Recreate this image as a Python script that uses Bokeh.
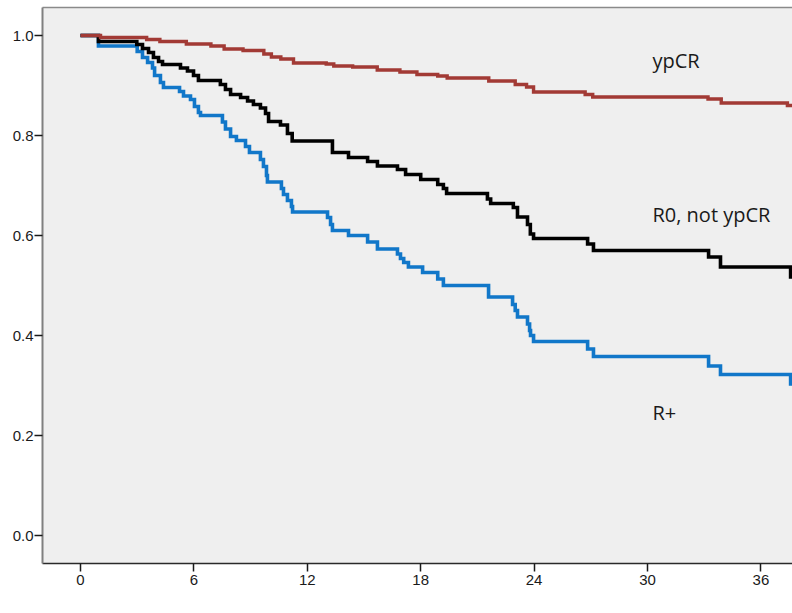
from bokeh.plotting import figure
from bokeh.models import (Range1d, FixedTicker, NumeralTickFormatter, Label,
                          LinearAxis)
from bokeh.embed import file_html
from bokeh.resources import INLINE

# ---- data ----
months_ypcr = [0, 1.06, 3.5, 4.2, 5.6, 6.9, 7.6, 8.6, 9.7, 10.1, 10.6, 11.27, 13.0, 13.4,
               14.4, 15.7, 16.9, 17.8, 18.9, 19.4, 21.6, 23.0, 23.6, 23.97, 26.7, 27.1,
               33.2, 33.9, 37.4, 38.0]
surv_ypcr = [1.0, 0.996, 0.992, 0.988, 0.983, 0.979, 0.973, 0.970, 0.963, 0.957, 0.953,
             0.945, 0.943, 0.939, 0.937, 0.931, 0.927, 0.922, 0.919, 0.915, 0.909, 0.902,
             0.897, 0.887, 0.882, 0.877, 0.873, 0.865, 0.860, 0.860]

months_r0 = [0, 0.95, 2.98, 3.28, 3.6, 3.86, 4.13, 4.34, 5.29, 5.66, 5.98, 6.24, 7.4, 7.67,
             7.94, 8.47, 8.84, 9.15, 9.52, 9.79, 9.95, 10.58, 10.95, 11.2, 13.33, 14.18,
             15.19, 15.71, 16.77, 17.2, 18.0, 18.9, 19.2, 19.37, 21.53, 21.7, 22.9, 23.12,
             23.65, 23.8, 23.97, 26.83, 27.14, 33.23, 33.86, 37.57, 38.0]
surv_r0 = [1.0, 0.988, 0.982, 0.974, 0.966, 0.956, 0.948, 0.942, 0.935, 0.929, 0.92, 0.91,
           0.902, 0.892, 0.882, 0.876, 0.869, 0.862, 0.855, 0.844, 0.828, 0.821, 0.804,
           0.789, 0.766, 0.756, 0.748, 0.739, 0.732, 0.722, 0.712, 0.702, 0.694, 0.684,
           0.673, 0.664, 0.656, 0.637, 0.622, 0.603, 0.594, 0.583, 0.57, 0.557, 0.537,
           0.517, 0.517]

months_rplus = [0, 0.95, 3.0, 3.28, 3.55, 3.81, 3.92, 4.23, 4.39, 5.24, 5.45, 5.82, 6.03,
                6.24, 6.35, 7.51, 7.67, 7.94, 8.25, 8.73, 8.94, 9.52, 9.68, 9.84, 9.89,
                10.63, 10.74, 10.95, 11.16, 11.22, 13.07, 13.23, 13.33, 14.18, 15.19, 15.71,
                16.77, 16.93, 17.1, 17.35, 18.1, 18.9, 19.2, 21.59, 22.86, 23.0, 23.12,
                23.65, 23.76, 23.81, 23.97, 26.83, 27.14, 33.23, 33.86, 37.57, 38.0]
surv_rplus = [1.0, 0.979, 0.968, 0.956, 0.946, 0.935, 0.92, 0.906, 0.896, 0.888, 0.879,
              0.872, 0.858, 0.846, 0.84, 0.827, 0.813, 0.798, 0.79, 0.778, 0.766, 0.752,
              0.738, 0.72, 0.707, 0.694, 0.682, 0.67, 0.658, 0.647, 0.636, 0.622, 0.61,
              0.60, 0.587, 0.573, 0.563, 0.554, 0.546, 0.537, 0.526, 0.513, 0.50, 0.477,
              0.462, 0.45, 0.437, 0.423, 0.41, 0.40, 0.388, 0.373, 0.358, 0.339, 0.322,
              0.303, 0.303]

x_ticks = [0, 6, 12, 18, 24, 30, 36]
y_ticks = [0.0, 0.2, 0.4, 0.6, 0.8, 1.0]
group_names = ["ypCR", "R0, not ypCR", "R+"]
x_label = "months"

# ---- figure ----
p = figure(width=792, height=613, output_backend="svg", toolbar_location=None,
           x_range=Range1d(-2.01, 37.67), y_range=Range1d(-0.056, 1.056),
           min_border_left=42, min_border_right=0, min_border_top=7,
           min_border_bottom=50)
p.background_fill_color = "#efefef"
p.border_fill_color = "white"
p.outline_line_color = None
p.grid.visible = False

tick_font = "Liberation Sans"
p.xaxis.ticker = FixedTicker(ticks=x_ticks)
p.yaxis.ticker = FixedTicker(ticks=y_ticks)
p.yaxis.formatter = NumeralTickFormatter(format="0.0")
for ax in (p.xaxis, p.yaxis):
    ax.major_tick_in = 0
    ax.major_tick_out = 8
    ax.minor_tick_in = 0
    ax.minor_tick_out = 0
    ax.major_tick_line_color = "#1a1a1a"
    ax.major_tick_line_width = 1.5
    ax.major_label_text_font = tick_font
    ax.major_label_text_font_size = "15px"
    ax.major_label_text_color = "#1a1a1a"
p.xaxis.major_label_standoff = 3
p.yaxis.major_label_standoff = 1
p.yaxis.axis_line_color = "#808080"
p.yaxis.axis_line_width = 2
p.xaxis.axis_line_color = "#2a2a2a"
p.xaxis.axis_line_width = 1.5

top = LinearAxis(ticker=FixedTicker(ticks=[]), major_tick_out=0, major_tick_in=0,
                 minor_tick_out=0, minor_tick_in=0, major_label_standoff=0,
                 major_label_text_font_size="0px", axis_line_color="#8a8a8a",
                 axis_line_width=1.5)
p.add_layout(top, "above")

# ---- curves ----
p.step(months_rplus, surv_rplus, mode="after", line_color="#1177c9", line_width=3.6,
       line_join="miter")
p.step(months_r0, surv_r0, mode="after", line_color="#000000", line_width=3.6,
       line_join="miter")
p.step(months_ypcr, surv_ypcr, mode="after", line_color="#a23a35", line_width=3.4,
       line_join="miter")

# ---- annotations ----
lab_font = "Open Sans"
for txt, yv in zip(group_names, [0.95, 0.643, 0.247]):
    p.add_layout(Label(x=30.26, y=yv, text=txt, text_font=lab_font,
                       text_font_size="20px", text_color="#1a1a1a",
                       text_baseline="alphabetic", text_align="left"))
p.add_layout(Label(x=31.55, y=-0.152, text=x_label, text_font=lab_font,
                   text_font_size="20px", text_color="#1a1a1a",
                   text_baseline="bottom", text_align="left"))

open("out.html", "w").write(file_html(p, INLINE))
